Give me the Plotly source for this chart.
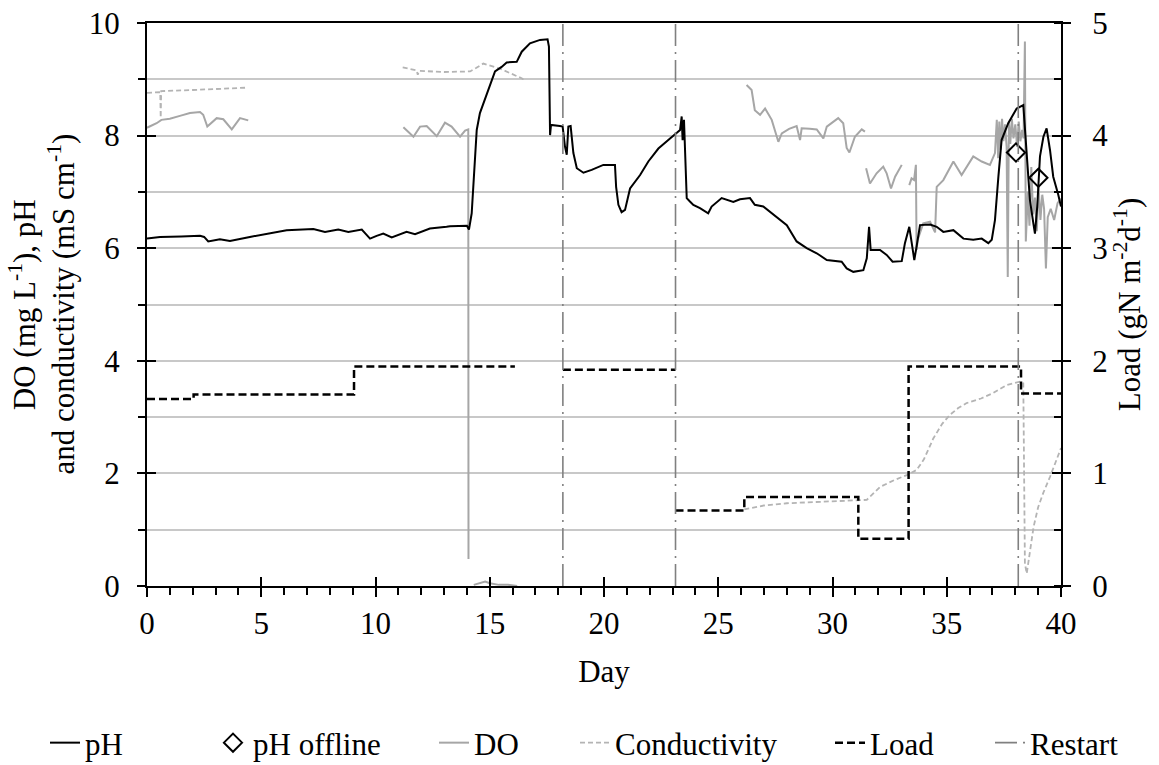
import plotly.graph_objects as go

# ---- data ---------------------------------------------------------------
# pH (online probe), day / value
ph_day = [0, 0.57, 1.5, 2.32, 2.5, 2.68, 3.19, 3.63, 4.5, 5.3, 6.11, 7.28, 7.79, 8.37,
          8.81, 9.4, 9.76, 10.05, 10.34, 10.71, 11.36, 11.73, 12.38, 13.11, 13.26, 14.0,
          14.09, 14.21, 14.28, 14.35, 14.43, 14.57, 14.72, 15.01, 15.23, 15.52, 15.74,
          16.18, 16.4, 16.76, 17.2, 17.53, 17.59, 17.64, 17.68, 18.07, 18.19, 18.29,
          18.37, 18.44, 18.54, 18.66, 18.81, 19.1, 19.46, 19.97, 20.48, 20.53, 20.63,
          20.77, 20.92, 21.14, 21.58, 21.94, 22.38, 22.89, 23.33, 23.4, 23.44, 23.5,
          23.62, 23.76, 23.91, 24.2, 24.56, 24.71, 25.15, 25.66, 25.95, 26.39, 26.6,
          26.97, 27.56, 28.0, 28.43, 28.87, 29.31, 29.75, 30.4, 30.62, 30.91, 31.35,
          31.5, 31.6, 31.67, 32.08, 32.37, 32.63, 33.03, 33.17, 33.36, 33.51, 33.58,
          33.68, 33.83, 34.27, 34.56, 34.85, 35.29, 35.73, 36.16, 36.53, 36.82, 36.97,
          37.11, 37.26, 37.4, 37.69, 38.06, 38.35, 38.5, 38.64, 38.79, 38.86, 38.96,
          39.08, 39.23, 39.37, 39.52, 39.66, 39.88, 40.0]
ph_val = [6.17, 6.20, 6.21, 6.22, 6.20, 6.12, 6.16, 6.13, 6.20, 6.26, 6.32, 6.34, 6.29, 6.33,
          6.29, 6.33, 6.17, 6.22, 6.26, 6.19, 6.29, 6.25, 6.35, 6.38, 6.39, 6.40,
          6.33, 6.62, 7.09, 7.74, 8.10, 8.40, 8.57, 8.87, 9.14, 9.22, 9.30,
          9.31, 9.49, 9.64, 9.70, 9.71, 9.58, 8.01, 8.19, 8.17, 8.16, 7.81,
          7.66, 8.16, 8.17, 7.69, 7.42, 7.34, 7.39, 7.48, 7.48, 7.09, 6.77,
          6.64, 6.68, 7.06, 7.30, 7.54, 7.77, 7.95, 8.10, 8.34, 7.92, 8.28,
          6.89, 6.83, 6.77, 6.71, 6.62, 6.74, 6.89, 6.82, 6.87, 6.89, 6.77,
          6.74, 6.56, 6.41, 6.12, 6.00, 5.91, 5.79, 5.76, 5.64, 5.58, 5.61,
          5.82, 6.38, 5.97, 5.97, 5.88, 5.76, 5.77, 6.09, 6.38, 6.03, 5.79,
          6.03, 6.41, 6.42, 6.38, 6.29, 6.32, 6.17, 6.15, 6.17, 6.09, 6.15,
          6.50, 7.27, 7.92, 8.22, 8.48, 8.54, 7.57, 6.86, 6.44, 6.26, 6.74,
          7.63, 7.98, 8.13, 7.74, 7.27, 6.95, 6.74]

# pH offline samples
ph_off_day = [38.03, 39.01]
ph_off_val = [7.70, 7.25]

# Dissolved oxygen (None = no record)
do_day = [0, 0.42, 0.63, 1.0, 1.44, 1.88, 2.32, 2.46, 2.64, 3.05, 3.34, 3.71, 4.07, 4.43, None,
          11.22, 11.66, 11.95, 12.24, 12.68, 13.04, 13.33, 13.7, 13.92, 14.06, 14.07, None,
          14.3, 14.6, 14.8, 15.0, 15.4, 15.8, 16.2, None,
          26.24, 26.46, 26.6, 26.83, 27.05, 27.34, 27.63, 27.78, 28.1, 28.43, 28.58, 28.65,
          29.0, 29.31, 29.6, 29.75, 30.25, 30.47, 30.62, 30.74, 30.98, 31.28, 31.42, None,
          31.47, 31.64, 31.93, 32.22, 32.37, 32.56, 32.74, 33.03, None,
          33.36, 33.46, 33.57, 33.65, 33.68, 33.73, 33.97, 34.27, 34.49, 34.56, 34.85,
          35.29, 35.65, 36.16, 36.53, 36.89, 37.11, 37.19, 37.25, 37.3, 37.36, 37.42,
          37.48, 37.55, 37.62, 37.67, 37.72, 37.78, 37.85, 37.92, 38.0, 38.08, 38.15,
          38.22, 38.3, 38.36, 38.42, 38.46, 38.55, 38.62, 38.7, 38.78, 38.86, 38.94,
          39.02, 39.1, 39.18, 39.26, 39.34, 39.42, 39.55, 39.7, 39.85, 40.0]
do_val = [8.14, 8.22, 8.28, 8.30, 8.35, 8.40, 8.42, 8.37, 8.16, 8.31, 8.29, 8.11, 8.31, 8.27, None,
          8.15, 7.98, 8.16, 8.17, 7.99, 8.23, 8.16, 7.98, 8.09, 8.11, 0.48, None,
          0.02, 0.05, 0.08, 0.05, 0.02, 0.02, 0.0, None,
          8.90, 8.81, 8.45, 8.37, 8.48, 8.28, 7.89, 8.04, 8.12, 8.17, 7.92, 8.13,
          8.12, 8.11, 7.95, 8.16, 8.31, 8.22, 7.78, 7.70, 7.98, 8.11, 8.07, None,
          7.42, 7.15, 7.33, 7.45, 7.33, 7.06, 7.27, 7.48, None,
          7.12, 7.24, 7.21, 7.48, 5.97, 6.15, 6.44, 6.47, 6.28, 7.09, 7.21,
          7.54, 7.30, 7.63, 7.54, 7.48, 7.69, 8.28, 7.60, 8.25, 7.75, 8.30,
          7.90, 8.20, 7.80, 5.49, 8.25, 7.85, 8.30, 7.95, 8.20, 7.80, 8.25,
          7.90, 8.10, 7.95, 9.67, 6.12, 7.00, 6.40, 7.44, 6.60, 6.90, 6.30,
          7.10, 6.50, 6.95, 6.70, 5.64, 6.55, 6.70, 6.50, 6.80, 6.88]

# Conductivity (mS cm-1)
cond_day = [0, 0.58, 0.6, 0.62, 2.0, 4.3, None,
            11.19, 11.8, 11.85, 11.9, 13.0, 14.14, 14.4, 14.72, 15.5, 16.44, 16.45, None,
            26.14, 27.0, 28.0, 29.0, 30.0, 31.13, 31.5, 32.08, 32.7, 33.25, 33.68, 34.0,
            34.41, 34.8, 35.14, 35.5, 35.87, 36.5, 37.04, 37.62, 38.2, 38.35, 38.42, 38.5,
            38.6, 38.8, 39.0, 39.22, 39.52, 39.75, 40.0]
cond_val = [8.76, 8.77, 8.32, 8.79, 8.81, 8.85, None,
            9.21, 9.16, 9.08, 9.15, 9.13, 9.14, 9.20, 9.28, 9.18, 9.01, 8.97, None,
            1.36, 1.43, 1.47, 1.49, 1.51, 1.52, 1.53, 1.76, 1.88, 1.97, 2.06, 2.25,
            2.62, 2.88, 3.04, 3.16, 3.25, 3.33, 3.43, 3.57, 3.63, 3.60, 0.40, 0.22,
            0.50, 1.05, 1.40, 1.65, 1.94, 2.20, 2.45]

# Nitrogen load (gN m-2 d-1), step changes
load_day = [0, 2.04, 9.06, 16.1, None, 18.2, 23.13, None,
            23.13, 26.14, 31.13, 33.33, 38.25, 40.0]
load_val = [1.66, 1.70, 1.95, 1.95, None, 1.92, 1.92, None,
            0.67, 0.79, 0.42, 1.95, 1.71, 1.71]

# Reactor restarts (day)
restart_days = [18.2, 23.13, 38.13]

# ---- styling --------------------------------------------------------------
FONT = "Liberation Serif"
FS = 31
GRID = "#c8c8c8"
GREY = "#a6a6a6"
CLEAR = "rgba(0,0,0,0)"
txt = dict(family=FONT, size=FS, color="black")

# Axis layout (all overlaid on one plot area):
#   y  : left line, outer ticks, gridlines        (0-10)
#   y2 : right line, outer ticks, inner minor     (0-10, i.e. 0-5 load)
#   y3 : left inner halves of major ticks         (0-10)
#   y4 : right inner halves of major ticks        (0-10)
#   y5 : left tick labels                         (0-10)
#   y6 : right tick labels + title, load scale    (0-5)
#   x2 : inner halves of the major day ticks
fig = go.Figure()

fig.add_trace(go.Scatter(x=do_day, y=do_val, mode="lines", name="DO", legend="legend3",
                         yaxis="y", line=dict(color=GREY, width=2), connectgaps=False))
fig.add_trace(go.Scatter(x=cond_day, y=cond_val, mode="lines", name="Conductivity",
                         legend="legend4", yaxis="y3",
                         line=dict(color="#b4b4b4", width=1.8, dash="5px,3px"),
                         connectgaps=False))
fig.add_trace(go.Scatter(x=ph_day, y=ph_val, mode="lines", name="pH", legend="legend",
                         yaxis="y4", line=dict(color="black", width=2)))
fig.add_trace(go.Scatter(x=ph_off_day, y=ph_off_val, mode="markers", name="pH offline",
                         legend="legend2", yaxis="y2",
                         marker=dict(symbol="diamond-open", size=14, color="black",
                                     line=dict(width=2, color="black"))))

rx, ry = [], []
for d in restart_days:
    rx += [d, d, None]
    ry += [0, 10, None]
fig.add_trace(go.Scatter(x=rx, y=ry, mode="lines", name="Restart", legend="legend6",
                         xaxis="x2", yaxis="y5",
                         line=dict(color="#808080", width=1.6, dash="22px,6px,2px,6px"),
                         connectgaps=False))
fig.add_trace(go.Scatter(x=load_day, y=load_val, mode="lines", name="Load", legend="legend5",
                         yaxis="y6",
                         line=dict(color="black", width=2.5, dash="8px,4px", shape="hv"),
                         connectgaps=False))

# two-line left axis title
left_title = ["DO (mg L<sup>-1</sup>), pH", "and conductivity (mS cm<sup>-1</sup>)"]
for xpos, line in zip([-0.136, -0.094], left_title):
    fig.add_annotation(text=line, xref="paper", yref="paper", x=xpos, y=0.5,
                       xanchor="center", yanchor="middle", textangle=-90,
                       showarrow=False, font=txt)

# one legend box per entry, laid out along the bottom
legend_left = [45, 213, 434, 575, 830, 990]
legend_keys = ["legend", "legend2", "legend3", "legend4", "legend5", "legend6"]
legends = {}
for key, px in zip(legend_keys, legend_left):
    legends[key] = dict(orientation="h", xref="container", yref="container",
                        x=px / 1159, xanchor="left", y=22 / 765, yanchor="middle",
                        font=txt, bgcolor=CLEAR, borderwidth=0, itemwidth=30)

inner_y = dict(overlaying="y", anchor="x", showgrid=False, zeroline=False, showline=False,
               showticklabels=False)

fig.update_layout(
    width=1159, height=765,
    margin=dict(l=147, r=98, t=23, b=179, autoexpand=False),
    paper_bgcolor="white", plot_bgcolor="white",
    font=txt,
    showlegend=True,
    **legends,
    xaxis=dict(range=[0, 40], dtick=5, tick0=0, showgrid=False, zeroline=False,
               showline=True, linecolor="black", linewidth=2, mirror=True,
               ticks="outside", ticklen=9, tickwidth=2, tickcolor="black",
               minor=dict(dtick=1, ticks="outside", ticklen=7, tickwidth=1.5,
                          tickcolor="black", showgrid=False),
               tickfont=txt,
               title=dict(text="Day", font=txt, standoff=20)),
    xaxis2=dict(range=[0, 40], dtick=5, tick0=0, overlaying="x", anchor="y", side="bottom",
                showgrid=False, zeroline=False, showline=False, showticklabels=False,
                ticks="inside", ticklen=9, tickwidth=2, tickcolor="black"),
    yaxis=dict(range=[0, 10], dtick=2, tick0=0, showgrid=True, gridcolor=GRID, gridwidth=1.5,
               zeroline=False, showline=True, linecolor="black", linewidth=2,
               ticks="outside", ticklen=8, tickwidth=2, tickcolor="black",
               showticklabels=False,
               minor=dict(dtick=1, ticks="outside", ticklen=7, tickwidth=1.5,
                          tickcolor="black", showgrid=True, gridcolor=GRID, gridwidth=1.5)),
    yaxis2=dict(range=[0, 10], dtick=2, tick0=0, overlaying="y", anchor="x", side="right",
                showgrid=False, zeroline=False, showline=True, linecolor="black", linewidth=2,
                ticks="outside", ticklen=8, tickwidth=2, tickcolor="black",
                showticklabels=False,
                minor=dict(dtick=1, ticks="inside", ticklen=7, tickwidth=1.5,
                           tickcolor="black", showgrid=False)),
    yaxis3=dict(range=[0, 10], dtick=2, tick0=0, side="left",
                ticks="inside", ticklen=9, tickwidth=2, tickcolor="black", **inner_y),
    yaxis4=dict(range=[0, 10], dtick=2, tick0=0, side="right",
                ticks="inside", ticklen=9, tickwidth=2, tickcolor="black", **inner_y),
    yaxis5=dict(range=[0, 10], dtick=2, tick0=0, overlaying="y", anchor="x", side="left",
                showgrid=False, zeroline=False, showline=False, showticklabels=True,
                ticks="outside", ticklen=20, tickcolor=CLEAR, tickfont=txt),
    yaxis6=dict(range=[0, 5], dtick=1, tick0=0, overlaying="y", anchor="x", side="right",
                showgrid=False, zeroline=False, showline=False, showticklabels=True,
                ticks="outside", ticklen=24, tickcolor=CLEAR, tickfont=txt,
                title=dict(text="Load (gN m<sup>-2</sup>d<sup>-1</sup>)", font=txt,
                           standoff=10)),
)

fig.write_html("out.html")
